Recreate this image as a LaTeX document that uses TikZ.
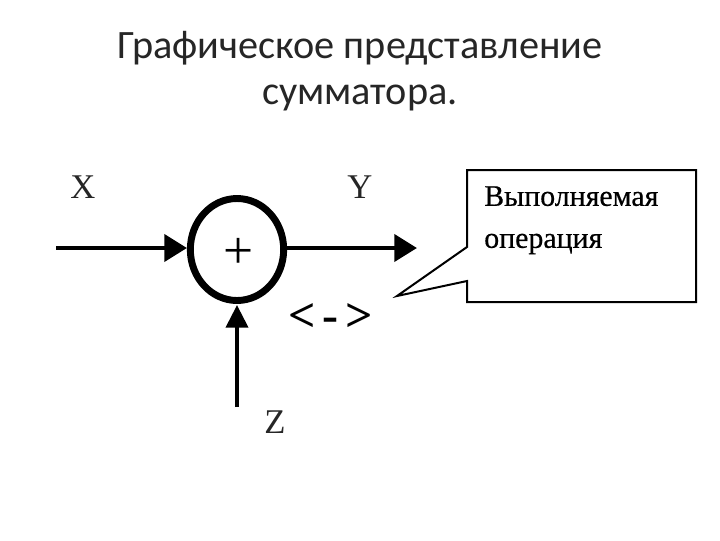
\documentclass[tikz,border=0pt]{standalone}
\usepackage{fontspec}
\setmainfont{Liberation Serif}
\newfontfamily\titlefont{Carlito}
\newfontfamily\heavyfont[FakeBold=0.5]{Liberation Serif}
\usetikzlibrary{shapes.geometric,arrows.meta}
\tikzset{
  titletext/.style={font=\titlefont\fontsize{30.2pt}{34.8pt}\selectfont,align=center,text=black!85,inner sep=0pt},
  varlabel/.style={font=\fontsize{26pt}{26pt}\selectfont,inner sep=0pt,text=black!85},
  adder/.style={ellipse,draw=black,line width=5.2pt,minimum width=70pt,minimum height=76.5pt,inner sep=0pt},
  flow/.style={line width=3.6pt,-{Triangle[length=17pt,width=20pt]},shorten >=0pt},
  flowup/.style={line width=3pt,-{Triangle[length=17pt,width=16.5pt]},shorten >=0pt},
  calloutline/.style={draw=black,line width=1.5pt,fill=white,line join=miter},
  boxtext/.style={font=\heavyfont\fontsize{22.4pt}{31.5pt}\selectfont,align=left,inner sep=0pt,text=black,text width=160pt}
}
\begin{document}
\begin{tikzpicture}[x=0.75pt,y=-0.75pt]
\useasboundingbox[fill=white] (0,0) rectangle (720,540);
\node[titletext] (title) at (360,71) {Графическое представление\\сумматора.};
\node[adder] (sum) at (237,249.5) {};
\node[font=\fontsize{40pt}{40pt}\selectfont,inner sep=0pt] (plus) at (239,253) {+};
\coordinate (xstart) at (56,248);
\coordinate (yend) at (417,248);
\coordinate (zstart) at (237,407);
\coordinate (xend) at (187,248);
\coordinate (ystart) at (287,248);
\coordinate (zend) at (237,305);
\draw[flow] (xstart) -- (xend);
\draw[flow] (ystart) -- (yend);
\draw[flowup] (zstart) -- (zend);
\node[varlabel] (x) at (83,187) {X};
\node[varlabel] (y) at (360,187) {Y};
\node[varlabel] (z) at (275,422) {Z};
\node[font=\bfseries\fontsize{36pt}{36pt}\selectfont,inner sep=0pt] (op) at (331,318) {<\hspace{5pt}-\hspace{5pt}>};
\coordinate (tl) at (467,170);
\coordinate (tr) at (696,170);
\coordinate (br) at (696,302);
\coordinate (bl) at (467,302);
\coordinate (n1) at (467,247);
\coordinate (tip) at (397,296);
\coordinate (n2) at (467,281);
\path[calloutline] (tl) -- (tr) -- (br) -- (bl) -- (n2) -- (tip) -- (n1) -- cycle;
\node[boxtext,anchor=north west] (bt) at (484,186) {Выполняемая\\операция};
\end{tikzpicture}
\end{document}
